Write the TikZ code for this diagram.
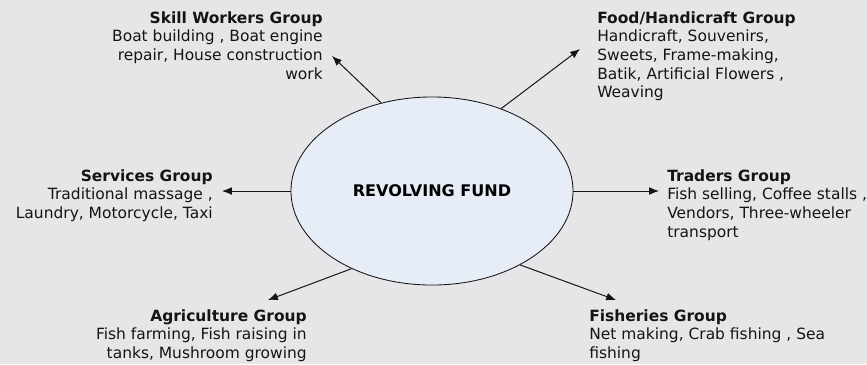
\documentclass[tikz,border=0pt]{standalone}
\usepackage{fontspec}
\setmainfont{DejaVu Sans}
\usetikzlibrary{shapes.geometric,arrows.meta}
\definecolor{bggray}{HTML}{E6E6E8}
\definecolor{fundblue}{HTML}{E6EDF7}
\definecolor{inkdark}{HTML}{141414}

\begin{document}
\begin{tikzpicture}[x=0.025cm,y=-0.025cm,
        grp/.style={inner sep=0pt,text=inkdark,font=\fontsize{11pt}{13.3pt}\selectfont},
        arr/.style={-{Latex[length=7pt,width=5.5pt]},line width=0.7pt,draw=inkdark}]
        \fill[bggray](0,0)rectangle(867,364);
        \useasboundingbox(0,0)rectangle(867,364);

        % centre
        \node[ellipse,draw=inkdark,line width=0.6pt,fill=fundblue,minimum width=7.05cm,minimum height=4.7cm,inner sep=0pt,font=\fontsize{11.4pt}{13.3pt}\selectfont\bfseries](fund)at(432,191){REVOLVING FUND};

        % groups
        \node[grp,anchor=north east,align=right](skill)at(323,11){\textbf{Skill Workers Group}\\Boat building , Boat engine\\repair, House construction\\work};
        \node[grp,anchor=north west,align=left](food)at(597,11){\textbf{Food/Handicraft Group}\\Handicraft, Souvenirs,\\Sweets, Frame-making,\\Batik, Artificial Flowers ,\\Weaving};
        \node[grp,anchor=north east,align=right](services)at(213,169){\textbf{Services Group}\\Traditional massage ,\\Laundry, Motorcycle, Taxi};
        \node[grp,anchor=north west,align=left](traders)at(667,169){\textbf{Traders Group}\\Fish selling, Coffee stalls ,\\Vendors, Three-wheeler\\transport};
        \node[grp,anchor=north east,align=right](agri)at(307,309){\textbf{Agriculture Group}\\Fish farming, Fish raising in\\tanks, Mushroom growing};
        \node[grp,anchor=north west,align=left](fish)at(589,309){\textbf{Fisheries Group}\\Net making, Crab fishing , Sea\\fishing};

        % arrow ends
        \coordinate(skilltip)at(332,56);
        \coordinate(foodtip)at(580,49);
        \coordinate(servicestip)at(222,191);
        \coordinate(traderstip)at(659,191);
        \coordinate(agritip)at(268,300);
        \coordinate(fishtip)at(616,300);

        \draw[arr](fund.120)--(skilltip);
        \draw[arr](fund.50)--(foodtip);
        \draw[arr](fund.180)--(servicestip);
        \draw[arr](fund.0)--(traderstip);
        \draw[arr](fund.224)--(agritip);
        \draw[arr](fund.320)--(fishtip);
    \end{tikzpicture}
\end{document}
